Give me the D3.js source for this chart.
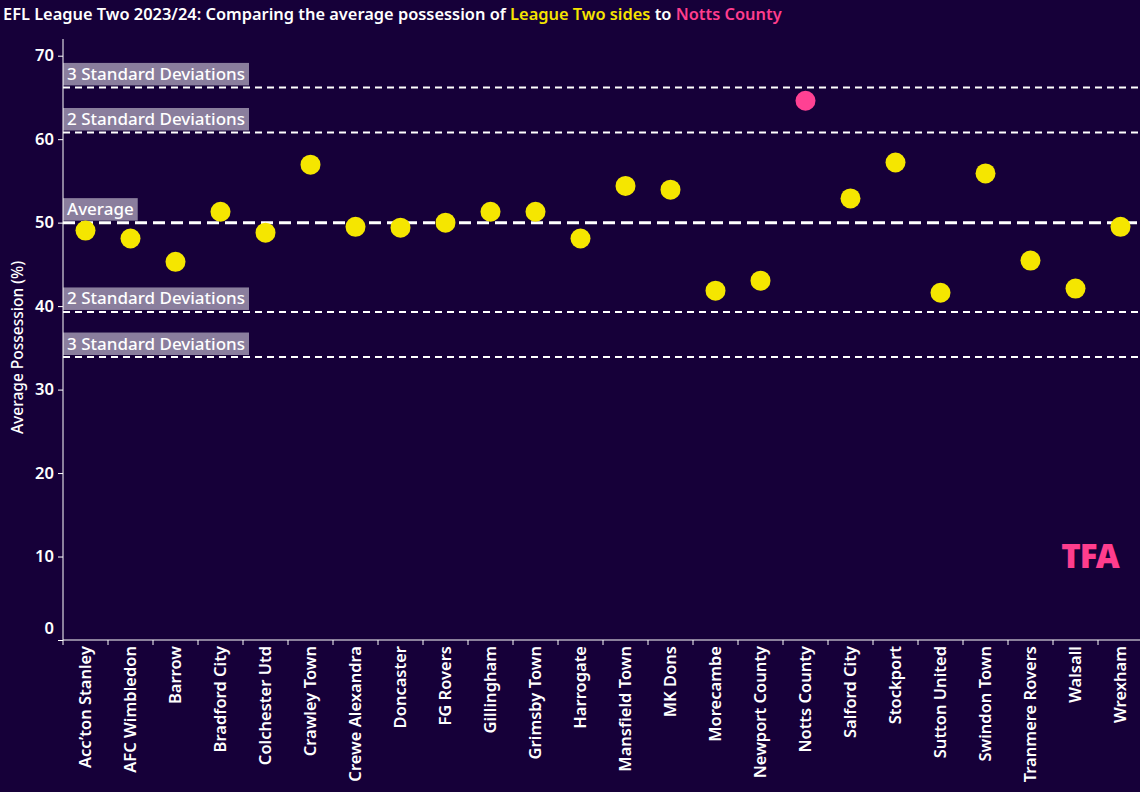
<!DOCTYPE html>
<html>
<head>
<meta charset="utf-8">
<script src="https://cdn.jsdelivr.net/npm/d3@7"></script>
<style>
  html, body { margin: 0; padding: 0; background: #160039; }
  svg { display: block; }
  text { font-family: "Noto Sans", "Open Sans", sans-serif; }
</style>
</head>
<body>
<svg id="chart" width="1140" height="792"></svg>
<script>
const teams = ["Acc\u2019ton Stanley","AFC Wimbledon","Barrow","Bradford City","Colchester Utd","Crawley Town","Crewe Alexandra","Doncaster","FG Rovers","Gillingham","Grimsby Town","Harrogate","Mansfield Town","MK Dons","Morecambe","Newport County","Notts County","Salford City","Stockport","Sutton United","Swindon Town","Tranmere Rovers","Walsall","Wrexham"];
const possession = [49.05,48.1,45.3,51.3,48.8,56.95,49.5,49.4,50.0,51.3,51.3,48.1,54.4,53.95,41.85,43.05,64.6,52.9,57.2,41.6,55.9,45.45,42.1,49.5];
const highlight = "Notts County";
const yTicks = [0,10,20,30,40,50,60,70];
const refValues = [66.2, 60.8, 50.0, 39.3, 33.9];
const refLabels = ["3 Standard Deviations","2 Standard Deviations","Average","2 Standard Deviations","3 Standard Deviations"];
const refKinds = ["sd","sd","avg","sd","sd"];

(function () {
const svg = d3.select("#chart");
const W = 1140, H = 792;
const mLeft = 63, mRight = 1143, mTop = 39, mBottom = 640;

svg.append("rect").attr("width", W).attr("height", H).attr("fill", "#160039");

const x = d3.scaleBand().domain(teams).range([mLeft, mRight]).paddingInner(0).paddingOuter(0);
const y = d3.scaleLinear().domain([0, 72]).range([mBottom, mTop]);

// Title
const title = svg.append("text").attr("x", 3).attr("y", 20)
  .attr("font-size", 16.4).attr("font-weight", 600).attr("fill", "#ffffff");
title.append("tspan").text("EFL League Two 2023/24: Comparing the average possession of ");
title.append("tspan").attr("fill", "#f5e400").text("League Two sides");
title.append("tspan").text(" to ");
title.append("tspan").attr("fill", "#ff3d8d").text("Notts County");

// Reference lines
const refs = refValues.map((v, i) => ({ v, label: refLabels[i], kind: refKinds[i] }));
const refG = svg.append("g");
refG.selectAll("line").data(refs).join("line")
  .attr("x1", mLeft).attr("x2", W)
  .attr("y1", d => y(d.v)).attr("y2", d => y(d.v))
  .attr("stroke", "#ffffff")
  .attr("stroke-width", d => d.kind === "avg" ? 3 : 2)
  .attr("stroke-dasharray", d => d.kind === "avg" ? "12,6" : "7,5");

const labG = refG.selectAll("g.lab").data(refs).join("g").attr("class", "lab");
labG.append("text")
  .attr("x", mLeft + 4).attr("y", d => y(d.v) - 7.5)
  .attr("font-size", 17).attr("font-weight", 500).attr("fill", "#ffffff")
  .text(d => d.label)
  .each(function (d) {
    const b = this.getBBox();
    d3.select(this.parentNode).insert("rect", "text")
      .attr("x", mLeft).attr("y", y(d.v) - 24.5)
      .attr("width", b.width + 8).attr("height", 22.5)
      .attr("fill", "#8a7e9d");
  });

// Axes
const yAxis = svg.append("g").attr("transform", `translate(${mLeft},0)`)
  .call(d3.axisLeft(y).tickValues(yTicks).tickSize(5).tickPadding(4).tickFormat(d3.format("d")));
yAxis.select(".domain").attr("d", `M0,${mTop}V${mBottom}`).attr("stroke", "#ffffff");
yAxis.selectAll(".tick line").attr("stroke", "#ffffff");
yAxis.selectAll(".tick text").attr("fill", "#ffffff").attr("font-size", 16.5).attr("font-weight", 600)
  .attr("font-family", "'Noto Sans', sans-serif")
  .attr("dy", d => d === 0 ? "-0.4em" : "0.32em");

const xAxis = svg.append("g").attr("transform", `translate(0,${mBottom})`)
  .call(d3.axisBottom(x).tickSize(0).tickPadding(0));
xAxis.select(".domain").attr("d", `M${mLeft},0H${W}`).attr("stroke", "#ffffff");
xAxis.selectAll(".tick text")
  .attr("fill", "#ffffff").attr("font-size", 16.5).attr("font-weight", 600)
  .attr("font-family", "'Noto Sans', sans-serif")
  .attr("text-anchor", "end")
  .attr("transform", "rotate(-90)")
  .attr("x", -6).attr("y", 0).attr("dy", "0.35em");
// band boundary ticks
svg.append("g").selectAll("line").data(teams).join("line")
  .attr("x1", d => x(d)).attr("x2", d => x(d))
  .attr("y1", mBottom).attr("y2", mBottom + 5)
  .attr("stroke", "#ffffff");

// Y axis title
svg.append("text")
  .attr("transform", `translate(23,${(mTop + mBottom) / 2 + 8}) rotate(-90)`)
  .attr("text-anchor", "middle").attr("font-size", 15.5).attr("font-weight", 500)
  .attr("fill", "#ffffff").text("Average Possession (%)");

// Dots
svg.append("g").selectAll("circle").data(teams.map((t, i) => ({ t, v: possession[i] })))
  .join("circle")
  .attr("cx", d => x(d.t) + x.bandwidth() / 2)
  .attr("cy", d => y(d.v))
  .attr("r", 10)
  .attr("fill", d => d.t === highlight ? "#ff4193" : "#f5e600");

// Logo
svg.append("text").attr("x", 1090).attr("y", 568).attr("text-anchor", "middle")
  .attr("font-size", 33).attr("font-weight", 900).attr("fill", "#ff3d8d")
  .attr("font-family", "'DejaVu Sans', sans-serif")
  .attr("letter-spacing", -1)
  .text("TFA");
})();
</script>
</body>
</html>
